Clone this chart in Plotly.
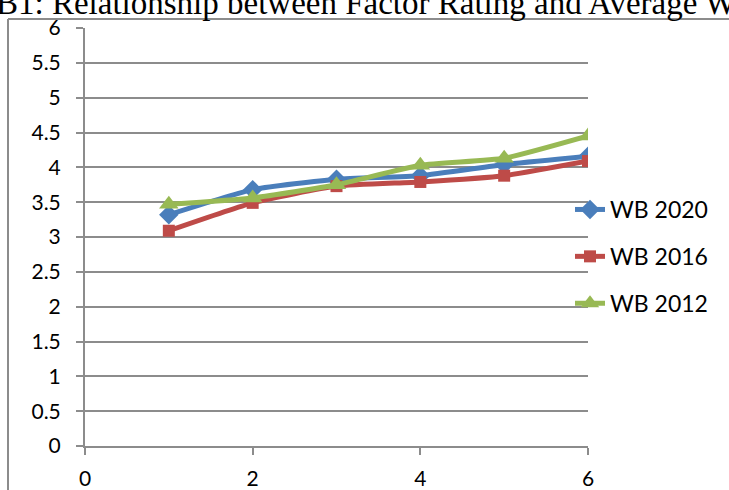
import plotly.graph_objects as go

# Factor rating (x) vs average weight (y) for three survey waves
factor_rating = [1, 2, 3, 4, 5, 6]
wb_2020 = [3.32, 3.68, 3.83, 3.88, 4.04, 4.16]
wb_2016 = [3.09, 3.49, 3.73, 3.79, 3.88, 4.09]
wb_2012 = [3.47, 3.56, 3.75, 4.03, 4.13, 4.45]

series_names = ["WB 2020", "WB 2016", "WB 2012"]
series_values = [wb_2020, wb_2016, wb_2012]
series_colors = ["#4A7EBB", "#BE4B48", "#98B954"]
series_symbols = ["diamond", "square", "triangle-up"]
series_sizes = [15, 12, 17]

y_ticks = [0, 0.5, 1, 1.5, 2, 2.5, 3, 3.5, 4, 4.5, 5, 5.5, 6]
x_ticks = [0, 2, 4, 6]

W, H = 729, 490
L, R, T, B = 85, 141, 28, 44
pw, ph = W - L - R, H - T - B

fig = go.Figure()
for name, vals, col, sym, sz in zip(series_names, series_values, series_colors,
                                    series_symbols, series_sizes):
    fig.add_trace(go.Scatter(
        x=factor_rating, y=vals, name=name, legendgroup=name,
        mode="lines+markers",
        line=dict(color=col, width=5, shape="spline", smoothing=0.5),
        marker=dict(symbol=sym, size=sz, color=col, line=dict(width=0)),
    ))

grid_col = "#8C8C8C"
tick_font = dict(family="Lato, 'Open Sans', sans-serif", size=21, color="#000000")

fig.update_layout(
    width=W, height=H,
    margin=dict(l=L, r=R, t=T, b=B, pad=0, autoexpand=False),
    paper_bgcolor="white", plot_bgcolor="white",
    showlegend=True,
    legend=dict(
        x=(570 - L) / pw, y=(H - B - 188) / ph, xanchor="left", yanchor="top",
        font=dict(family="Lato, 'Open Sans', sans-serif", size=23, color="#000000"),
        traceorder="grouped", tracegroupgap=14,
        bgcolor="rgba(0,0,0,0)", itemsizing="trace",
    ),
    xaxis=dict(
        range=[0, 6], tickvals=x_ticks, ticktext=[str(v) for v in x_ticks],
        showgrid=False, zeroline=False,
        showline=True, linecolor=grid_col, linewidth=2,
        ticks="outside", ticklen=7, tickwidth=1.5, tickcolor=grid_col,
        tickfont=tick_font, ticklabelstandoff=6, automargin=False,
        fixedrange=True,
    ),
    yaxis=dict(
        range=[0, 6], tickvals=y_ticks,
        ticktext=[("%g" % v) for v in y_ticks],
        showgrid=True, gridcolor=grid_col, gridwidth=2,
        zeroline=False,
        showline=True, linecolor=grid_col, linewidth=2,
        ticks="outside", ticklen=7, tickwidth=1.5, tickcolor=grid_col,
        tickfont=tick_font, ticklabelstandoff=11, automargin=False,
        fixedrange=True,
    ),
    font=dict(family="Lato, sans-serif"),
)

# Outer chart frame (left and top edges)
fx = (8 - L) / pw
fy = (H - B - 19) / ph
fig.add_shape(type="line", xref="paper", yref="paper",
              x0=fx, x1=fx, y0=fy, y1=-0.3,
              line=dict(color=grid_col, width=2))
fig.add_shape(type="line", xref="paper", yref="paper",
              x0=fx, x1=1.5, y0=fy, y1=fy,
              line=dict(color=grid_col, width=2))

# Chart title, running off the top edge
fig.add_annotation(
    text="B1: Relationship between Factor Rating and Average Weight",
    xref="paper", yref="paper",
    x=(-6 - L) / pw, y=(H - B - 23) / ph,
    xanchor="left", yanchor="bottom", showarrow=False,
    font=dict(family="'Liberation Serif', 'Times New Roman', serif", size=33,
              color="#000000"),
)

fig.write_html("out.html")
